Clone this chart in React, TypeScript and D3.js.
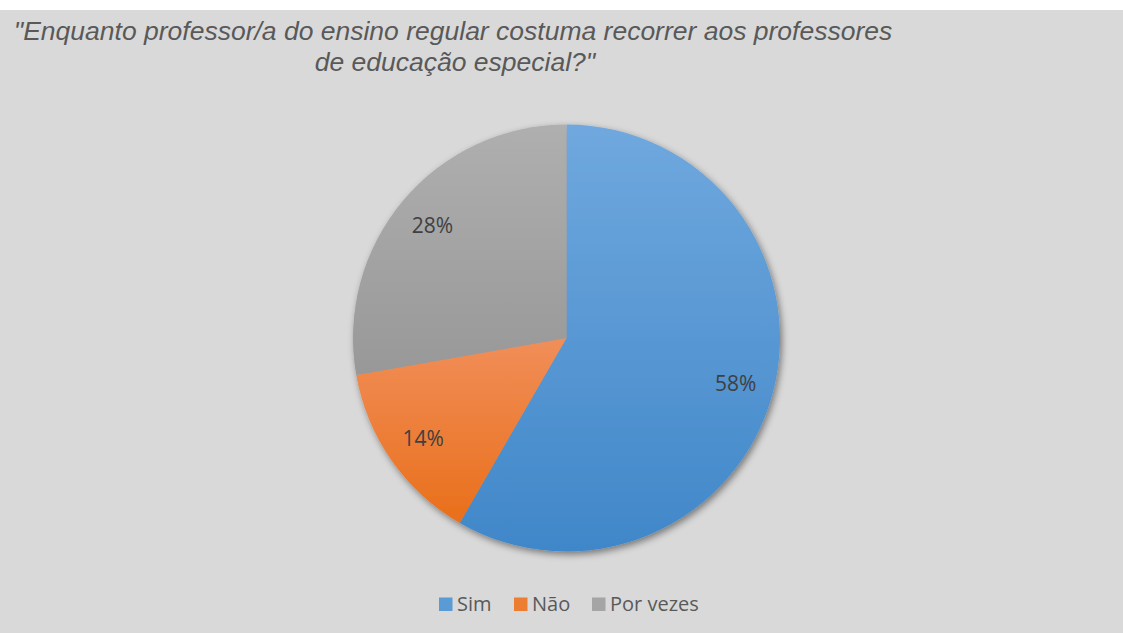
import React from "react";
import * as d3 from "d3";

const categories = ["Sim", "Não", "Por vezes"];
const counts = [21, 5, 10];
const baseColors = ["#5b9bd5", "#ed7d31", "#a5a5a5"];
const lightColors = ["#70a8de", "#f18e59", "#afafaf"];
const darkColors = ["#4087c9", "#e96f1a", "#989898"];
const titleLines = [
  "\"Enquanto professor/a do ensino regular costuma recorrer aos professores",
  "de educação especial?\"",
];

const W = 1123;
const H = 633;
const cx = 566.5;
const cy = 338;
const R = 213.5;

export default function App() {
  const total = d3.sum(counts);
  const pie = d3.pie<number>().sort(null).value((d) => d);
  const arcs = pie(counts);
  const arc = d3.arc<d3.PieArcDatum<number>>().innerRadius(0).outerRadius(R);
  const labelArc = d3
    .arc<d3.PieArcDatum<number>>()
    .innerRadius(R * 0.82)
    .outerRadius(R * 0.82);

  const legendItems = [
    { x: 439, textX: 457 },
    { x: 514, textX: 532 },
    { x: 592, textX: 610 },
  ];

  return (
    <svg
      width={W}
      height={H}
      style={{ position: "absolute", left: 0, top: 0, display: "block" }}
    >
      <defs>
        {categories.map((c, i) => (
          <linearGradient key={c} id={`g${i}`} x1="0" y1="0" x2="0" y2="1">
            <stop offset="0%" stopColor={lightColors[i]} />
            <stop offset="100%" stopColor={darkColors[i]} />
          </linearGradient>
        ))}
        <filter id="shadow" x="-20%" y="-20%" width="140%" height="140%">
          <feDropShadow dx="2" dy="3" stdDeviation="3.5" floodColor="#000" floodOpacity="0.45" />
        </filter>
      </defs>
      <rect x={0} y={0} width={W} height={H} fill="#ffffff" />
      <rect x={0} y={10} width={W} height={H - 10} fill="#d9d9d9" />
      <text
        fontFamily="'Liberation Sans', Arial, sans-serif"
        fontStyle="italic"
        fontSize={26.5}
        fill="#595959"
        textAnchor="middle"
      >
        <tspan x={453} y={40}>{titleLines[0]}</tspan>
        <tspan x={455} y={71}>{titleLines[1]}</tspan>
      </text>
      <g transform={`translate(${cx},${cy})`}>
        <g filter="url(#shadow)">
          {arcs.map((a, i) => (
            <path key={categories[i]} d={arc(a) || ""} fill={`url(#g${i})`} />
          ))}
        </g>
        {arcs.map((a, i) => {
          const [lx, ly] = labelArc.centroid(a);
          return (
            <text
              key={`l${i}`}
              x={lx}
              y={ly}
              dy="0.35em"
              textAnchor="middle"
              fontFamily="'Open Sans', sans-serif"
              fontSize={21}
              fill="#404040"
            >
              {`${Math.round((counts[i] / total) * 100)}%`}
            </text>
          );
        })}
      </g>
      <g>
        {categories.map((c, i) => (
          <g key={`lg${i}`}>
            <rect x={legendItems[i].x} y={597.5} width={13.5} height={13.5} fill={baseColors[i]} />
            <text
              x={legendItems[i].textX}
              y={604}
              dy="0.35em"
              fontFamily="'Open Sans', sans-serif"
              fontSize={20}
              fill="#595959"
            >
              {c}
            </text>
          </g>
        ))}
      </g>
    </svg>
  );
}
